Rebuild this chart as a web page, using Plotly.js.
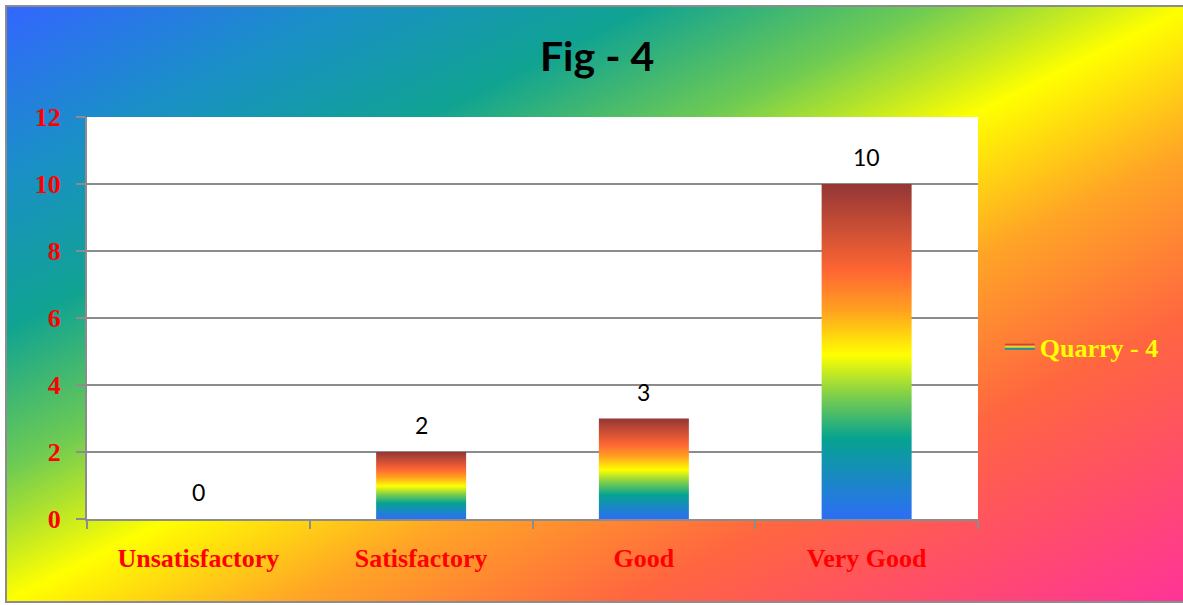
<!DOCTYPE html>
<html>
<head>
<meta charset="utf-8">
<script src="https://cdn.plot.ly/plotly-3.0.1.min.js"></script>
<style>
  html, body { margin: 0; padding: 0; background: #ffffff; width: 1183px; height: 605px; overflow: hidden; }
  #bg {
    position: absolute; left: 5px; top: 5px; width: 1186px; height: 598px;
    box-sizing: border-box; border: 2px solid #8c8c8c;
    background: linear-gradient(to bottom right,
      #3366ff 0%, #1a8fc8 14%, #10a392 27%, #6fcb52 39%, #ffff00 50%,
      #ffa526 62%, #ff6640 76%, #ff4d6a 88%, #ff3399 100%);
  }
  #chart { position: absolute; left: 0; top: 0; width: 1183px; height: 605px; }
</style>
</head>
<body>
<div id="bg"></div>
<div id="chart"></div>
<script>
// ---- data ----
const categories = ['Unsatisfactory', 'Satisfactory', 'Good', 'Very Good'];
const values = [0, 2, 3, 10];
const seriesName = 'Quarry - 4';
const yTickValues = [0, 2, 4, 6, 8, 10, 12];
const chartTitle = 'Fig - 4';

// ---- style ----
const barColorscale = [
  [0, '#2d6ef5'], [0.24, '#06a391'], [0.37, '#7fcf4a'], [0.49, '#ffff00'],
  [0.62, '#ffa21f'], [0.74, '#ff6633'], [1, '#933636']
];
const barFraction = 0.404;
const gray = '#8c8c8c';
const labelFont = { family: 'Liberation Serif', size: 26, color: '#ff0000', weight: 700 };

const traces = [];
// carrier bar trace (transparent) on the category axis
traces.push({
  type: 'bar', x: categories, y: values, name: seriesName,
  marker: { color: 'rgba(0,0,0,0)' }, showlegend: false, hoverinfo: 'skip'
});
// gradient-filled bars built from the same data
let first = true;
values.forEach(function (v, i) {
  if (v <= 0) return;
  const h = barFraction / 2;
  traces.push({
    type: 'scatter', mode: 'none', xaxis: 'x2', yaxis: 'y',
    x: [i - h, i + h, i + h, i - h, i - h],
    y: [0, 0, v, v, 0],
    fill: 'toself',
    fillgradient: { type: 'vertical', colorscale: barColorscale },
    name: seriesName, legendgroup: 'q', showlegend: first, hoverinfo: 'skip'
  });
  first = false;
});

const annotations = categories.map(function (c, i) {
  return {
    x: c, y: values[i], xref: 'x', yref: 'y', text: String(values[i]),
    showarrow: false, yanchor: 'middle', yshift: 27,
    font: { family: 'Lato', size: 23, color: '#000000' }
  };
});

const layout = {
  width: 1183, height: 605,
  margin: { l: 87, r: 205, t: 117, b: 86 },
  paper_bgcolor: 'rgba(0,0,0,0)',
  plot_bgcolor: '#ffffff',
  bargap: 1 - barFraction,
  title: {
    text: chartTitle, xref: 'container', yref: 'container',
    x: 0.5047, xanchor: 'center', y: 1 - 57 / 605, yanchor: 'middle',
    font: { family: 'Lato', size: 41, color: '#000000', weight: 700 }
  },
  xaxis: {
    type: 'category', categoryorder: 'array', categoryarray: categories,
    range: [-0.5, categories.length - 0.5],
    tickson: 'boundaries', ticks: 'outside', ticklen: 8, tickwidth: 2, tickcolor: gray,
    showline: true, linecolor: gray, linewidth: 2, showgrid: false, zeroline: false,
    tickfont: labelFont, ticklabelstandoff: 15, fixedrange: true
  },
  xaxis2: {
    overlaying: 'x', range: [-0.5, categories.length - 0.5], visible: false, fixedrange: true
  },
  yaxis: {
    range: [0, 12], tickvals: yTickValues, ticktext: yTickValues.map(String),
    showgrid: true, gridcolor: gray, gridwidth: 2,
    ticks: 'outside', ticklen: 9, tickwidth: 2, tickcolor: gray,
    showline: true, linecolor: gray, linewidth: 2, zeroline: false,
    tickfont: labelFont, ticklabelstandoff: 10, fixedrange: true
  },
  legend: {
    x: 1.0245, xanchor: 'left', y: 0.428, yanchor: 'middle',
    bgcolor: 'rgba(0,0,0,0)', borderwidth: 0,
    font: { family: 'Liberation Serif', size: 26, color: '#ffff00', weight: 700 }
  },
  annotations: annotations,
  showlegend: true
};

Plotly.newPlot('chart', traces, layout, { displayModeBar: false, staticPlot: true });
</script>
</body>
</html>
